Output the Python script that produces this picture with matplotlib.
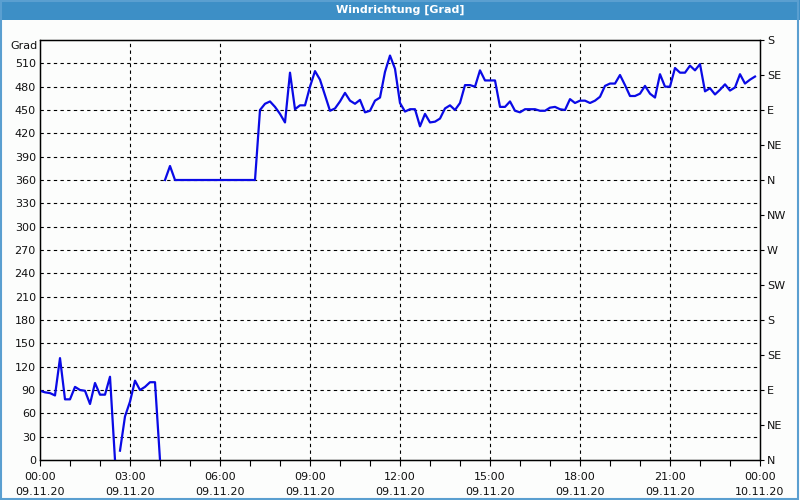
import numpy as np
import matplotlib
matplotlib.use("Agg")
import matplotlib.pyplot as plt
from matplotlib.patches import Rectangle

# wind direction every 10 minutes, 09.11.20 00:00 .. 23:50
direction = [
    89, 87, 86, 83, 131, 78, 78, 94, 90, 89, 72, 99,          # 00:00 - 01:50
    84, 84, 107, 0, 12, 56, 75, 102, 90, 94, 100, 100,        # 02:00 - 03:50
    0, 360, 378, 360, 360, 360, 360, 360, 360, 360, 360, 360,  # 04:00 - 05:50
    360, 360, 360, 360, 360, 360, 360, 360, 450, 458, 461, 454,  # 06:00 - 07:50
    445, 434, 498, 451, 456, 456, 480, 500, 489, 469, 449, 452,  # 08:00 - 09:50
    461, 472, 462, 458, 463, 447, 449, 462, 466, 499, 520, 503,  # 10:00 - 11:50
    459, 448, 451, 451, 429, 445, 434, 435, 439, 452, 456, 450,  # 12:00 - 13:50
    459, 482, 482, 480, 501, 488, 488, 488, 454, 454, 461, 449,  # 14:00 - 15:50
    447, 451, 451, 451, 449, 449, 453, 454, 451, 450, 464, 459,  # 16:00 - 17:50
    462, 462, 459, 462, 467, 481, 484, 484, 495, 482, 468, 468,  # 18:00 - 19:50
    471, 481, 471, 466, 496, 480, 480, 504, 498, 498, 507, 501,  # 20:00 - 21:50
    509, 474, 478, 470, 476, 483, 475, 479, 496, 484, 489, 493,  # 22:00 - 23:50
]
# sensor dropouts (line is broken after these samples)
gaps_after = [15, 24]

y_ticks = list(range(0, 540, 30))
compass = ["N", "NE", "E", "SE", "S", "SW", "W", "NW", "N", "NE", "E", "SE", "S"]
x_major = list(range(0, 25, 3))
x_labels = ["00:00\n09.11.20", "03:00\n09.11.20", "06:00\n09.11.20", "09:00\n09.11.20",
            "12:00\n09.11.20", "15:00\n09.11.20", "18:00\n09.11.20", "21:00\n09.11.20",
            "00:00\n10.11.20"]

hours = np.arange(len(direction)) / 6.0
vals = np.array(direction, dtype=float)
for g in sorted(gaps_after, reverse=True):
    hours = np.insert(hours, g + 1, hours[g] + 1 / 12)
    vals = np.insert(vals, g + 1, np.nan)

bg = "#fcfdfc"
fig = plt.figure(figsize=(8, 5), dpi=100, facecolor=bg)
ax = fig.add_axes([0.05, 0.08, 0.90, 0.84], facecolor=bg)

ax.plot(hours, vals, color="#0a0ae6", lw=1.6, clip_on=True, zorder=3)

ax.set_xlim(0, 24)
ax.set_ylim(0, 540)
ax.set_yticks(y_ticks)
ax.set_yticklabels([str(v) for v in y_ticks], fontsize=8, color="#111111")
ax.tick_params(axis="y", length=0, pad=3)
ax.set_xticks(x_major)
ax.set_xticklabels(x_labels, fontsize=8, color="#111111", linespacing=1.6)
ax.set_xticks(range(0, 25), minor=True)
ax.tick_params(axis="x", which="both", direction="out", length=4, width=0.8, pad=5)

for v in y_ticks[1:]:
    ax.axhline(v, color="black", lw=0.8, ls=(0, (3, 3)), zorder=1)
for h in x_major[1:-1]:
    ax.axvline(h, color="black", lw=0.8, ls=(0, (3, 3)), zorder=1)

for s in ax.spines.values():
    s.set_color("black")
    s.set_linewidth(1.0)

ax2 = ax.twinx()
ax2.set_ylim(0, 540)
ax2.set_yticks(range(0, 541, 45))
ax2.set_yticklabels(compass, fontsize=8, color="#111111")
ax2.tick_params(axis="y", direction="out", length=3, width=0.8, pad=2)

fig.text(0.047, 0.908, "Grad", ha="right", va="center", fontsize=8, color="#111111")

# title bar and window border
fig.patches.append(Rectangle((0, 0.96), 1, 0.04, transform=fig.transFigure,
                             facecolor="#3d8fc6", edgecolor="none", zorder=0))
fig.text(0.5, 0.98, "Windrichtung [Grad]", ha="center", va="center",
         fontsize=8, fontweight="bold", color="white")
fig.patches.append(Rectangle((0.001, 0.002), 0.997, 0.997, transform=fig.transFigure,
                             facecolor="none", edgecolor="#5a9fd0", lw=1.5, zorder=5))

fig.savefig("out.png", dpi=100, facecolor=bg)
